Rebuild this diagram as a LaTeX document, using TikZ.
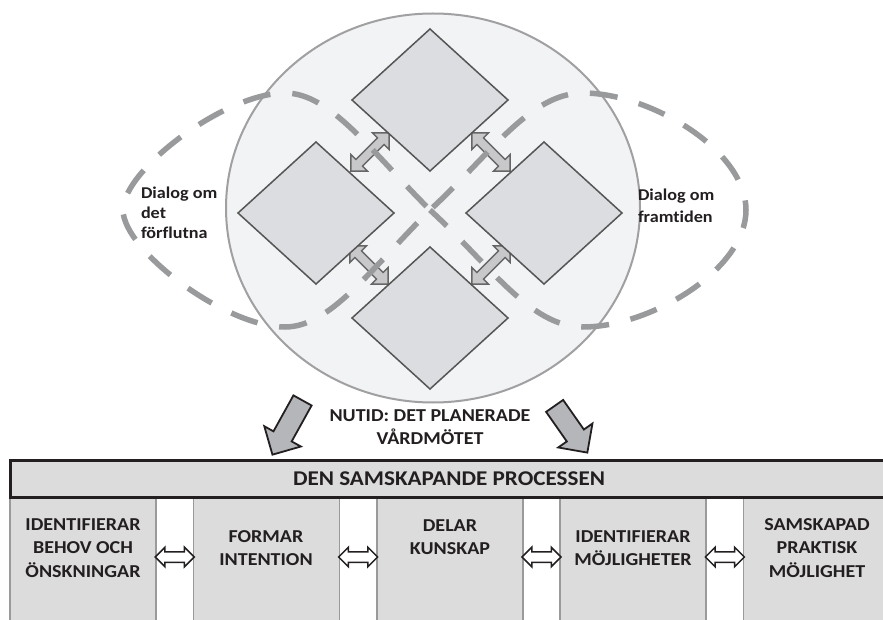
\documentclass[tikz,border=0pt]{standalone}
\usepackage{fontspec}
\setmainfont{Carlito}[FakeStretch=1.1, Ligatures=NoCommon]
\usetikzlibrary{positioning, shapes.geometric, shapes.arrows}

\definecolor{ringfill}{HTML}{F2F3F5}
\definecolor{ringline}{HTML}{A0A0A2}
\definecolor{facetfill}{HTML}{DCDDE0}
\definecolor{facetline}{HTML}{555555}
\definecolor{dashgray}{HTML}{999A9C}
\definecolor{shuttlefill}{HTML}{C8C8CA}
\definecolor{shuttleline}{HTML}{666666}
\definecolor{bigfill}{HTML}{B5B6B9}
\definecolor{boxfill}{HTML}{DCDCDD}
\definecolor{laneline}{HTML}{9A9A9A}
\definecolor{inkdark}{HTML}{231F20}

\begin{document}
\begin{tikzpicture}[
    x=1pt, y=-1pt,
    every node/.style={inner sep=0pt, outer sep=0pt},
    facet/.style={diamond, draw=facetline, fill=facetfill, line width=1.5pt, minimum width=156pt, minimum height=142pt},
    shuttle/.style={double arrow, draw=shuttleline, fill=shuttlefill, line width=1.4pt, inner ysep=4pt, minimum height=54pt, minimum width=22pt, double arrow head extend=7pt},
    bigarrow/.style={single arrow, draw=inkdark, fill=bigfill, line width=1.8pt, inner ysep=9.5pt, minimum width=40pt, single arrow head extend=10.5pt},
    lane/.style={rectangle, draw=laneline, fill=boxfill, line width=1.5pt, minimum width=146pt, minimum height=140pt, anchor=north west},
    hop/.style={double arrow, draw=inkdark, fill=white, line width=1.5pt, inner ysep=4.5pt, minimum height=39pt, minimum width=18pt, double arrow head extend=4.5pt},
    lanetext/.style={font=\bfseries\fontsize{18.2}{23.5}\selectfont, text=inkdark, align=center},
    talk/.style={font=\bfseries\fontsize{16.5}{20}\selectfont, text=inkdark, align=left},
    loop8/.style={draw=dashgray, line width=5.5pt, dash pattern=on 28pt off 22pt, dash phase=45pt}
]
\useasboundingbox (0,0) rectangle (883,620);
\clip (0,0) rectangle (883,620);

% Upper part
\node[ellipse, draw=ringline, fill=ringfill, line width=2pt, minimum width=414pt, minimum height=389pt] (present) at (433,208) {};

\node[shuttle, rotate=45] (a1) at (370,152) {};
\node[shuttle, rotate=-45] (a2) at (491,152) {};
\node[shuttle, rotate=-45] (a3) at (369,265) {};
\node[shuttle, rotate=45] (a4) at (491,265) {};

% Figure eight
\coordinate (mid) at (430,210);
\draw[loop8] (mid) .. controls (370,150) and (330,93) .. (285,93)
    .. controls (225,93) and (123,170) .. (123,210)
    .. controls (123,250) and (225,327) .. (285,327)
    .. controls (330,327) and (370,270) .. (mid)
    .. controls (490,155) and (530,93) .. (583,93)
    .. controls (650,93) and (746,150) .. (746,210)
    .. controls (746,270) and (650,327) .. (583,327)
    .. controls (530,327) and (490,265) .. (mid);

\node[facet] (dtop) at (430,100) {};
\node[facet] (dleft) at (316,213) {};
\node[facet] (dright) at (544,213) {};
\node[facet] (dbottom) at (430,318) {};

\node[talk, anchor=west] (past) at (141,213) {Dialog om\\det\\förflutna};
\node[talk, anchor=west, font=\bfseries\fontsize{16.5}{22}\selectfont] (future) at (638,206) {Dialog om\\framtiden};

% Arrows down
\node[bigarrow, minimum height=62pt, rotate=-119] (down1) at (290,423) {};
\node[bigarrow, minimum height=57pt, rotate=-55] (down2) at (568,425) {};

\node[lanetext, font=\bfseries\fontsize{18.2}{23}\selectfont] (now) at (430,427) {NUTID: DET PLANERADE\\VÅRDMÖTET};

% Process
\foreach \i in {0,...,4} {
    \node[lane] (c\i) at ({10+183.4*\i},497) {};
}
\foreach \i in {0,...,3} {
    \node[hop] (h\i) at ({174.7+183.4*\i},557) {};
}

\node[rectangle, draw=inkdark, fill=boxfill, line width=3pt, minimum width=900pt, minimum height=37pt, anchor=north west] (process) at (10,460) {};
\node[lanetext, font=\bfseries\fontsize{21}{26}\selectfont] (title) at (449,479) {DEN SAMSKAPANDE PROCESSEN};

\node[lanetext] (t0) at (83,548) {IDENTIFIERAR\\BEHOV OCH\\ÖNSKNINGAR};
\node[lanetext] (t1) at (266,548) {FORMAR\\INTENTION};
\node[lanetext] (t2) at (450,537) {DELAR\\KUNSKAP};
\node[lanetext] (t3) at (633,548) {IDENTIFIERAR\\MÖJLIGHETER};
\node[lanetext] (t4) at (817,548) {SAMSKAPAD\\PRAKTISK\\MÖJLIGHET};

\end{tikzpicture}
\end{document}
